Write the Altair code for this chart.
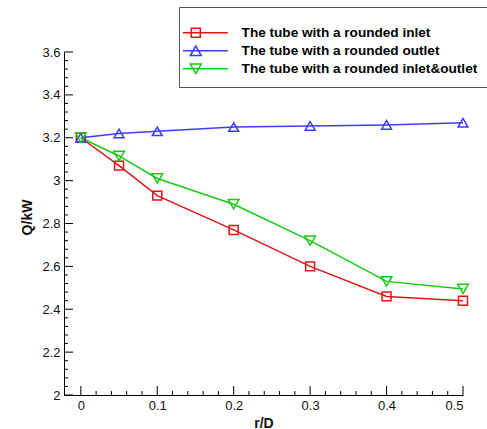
import altair as alt
import pandas as pd

# Heat transfer rate Q (kW) against fillet radius ratio r/D
r_over_d = [0, 0.05, 0.1, 0.2, 0.3, 0.4, 0.5]
q_inlet = [3.20, 3.07, 2.93, 2.77, 2.60, 2.46, 2.44]
q_outlet = [3.20, 3.22, 3.23, 3.25, 3.255, 3.26, 3.27]
q_inlet_outlet = [3.20, 3.115, 3.01, 2.89, 2.72, 2.53, 2.495]

series_names = [
    "The tube with a rounded inlet",
    "The tube with a rounded outlet",
    "The tube with a rounded inlet&outlet",
]
series_colors = ["#e01515", "#3c3cff", "#14cc14"]
marker_shapes = ["square", "triangle-up", "triangle-down"]
marker_sizes = [80, 115, 115]
# legend symbols: a short line with the marker on it
legend_shapes = [
    "M-2.6,0H6.4M-0.9,-0.9H0.9V0.9H-0.9Z",
    "M-2.6,0H6.4M0,-0.95L1.1,0.95L-1.1,0.95Z",
    "M-2.6,0H6.4M0,0.95L1.1,-0.95L-1.1,-0.95Z",
]

x_major = [0, 0.1, 0.2, 0.3, 0.4, 0.5]
y_major = [2.0, 2.2, 2.4, 2.6, 2.8, 3.0, 3.2, 3.4, 3.6]
x_minor = [round(i * 0.02, 2) for i in range(1, 25) if i % 5 != 0]
y_minor = [round(2 + i * 0.04, 2) for i in range(1, 40) if i % 5 != 0]

W, H = 399, 343
FONT = "Liberation Sans"

rows = []
for name, vals in zip(series_names, [q_inlet, q_outlet, q_inlet_outlet]):
    for x, q in zip(r_over_d, vals):
        rows.append({"rD": x, "Q": q, "series": name})
df = pd.DataFrame(rows)

xscale = alt.Scale(domain=[-0.022, 0.5], nice=False, zero=False)
yscale = alt.Scale(domain=[2, 3.6], nice=False, zero=False)
cscale = alt.Scale(domain=series_names, range=series_colors)

x_axis = alt.Axis(
    values=x_major, format="~g", ticks=False, grid=False, domainColor="black",
    labelFont=FONT, labelFontSize=13, labelColor="#111", labelPadding=4,
    title="r/D", titleFont=FONT, titleFontSize=14, titleFontWeight="bold",
    titleColor="#111", titlePadding=4,
)
y_axis = alt.Axis(
    values=y_major, format="~g", ticks=False, grid=False, domainColor="black",
    labelFont=FONT, labelFontSize=13, labelColor="#111", labelPadding=4,
    title="Q/kW", titleFont=FONT, titleFontSize=14, titleFontWeight="bold",
    titleColor="#111", titlePadding=7, titleY=165,
)

base = alt.Chart(df)

lines = base.mark_line(strokeWidth=1.5).encode(
    x=alt.X("rD:Q", scale=xscale, axis=x_axis),
    y=alt.Y("Q:Q", scale=yscale, axis=y_axis),
    color=alt.Color("series:N", scale=cscale, legend=None),
    detail="series:N",
)

points = base.mark_point(filled=False, strokeWidth=1.5, opacity=1).encode(
    x=alt.X("rD:Q", scale=xscale),
    y=alt.Y("Q:Q", scale=yscale),
    color=alt.Color("series:N", scale=cscale, legend=None),
    shape=alt.Shape("series:N", scale=alt.Scale(domain=series_names, range=marker_shapes), legend=None),
    size=alt.Size("series:N", scale=alt.Scale(domain=series_names, range=marker_sizes), legend=None),
)

legend_kw = dict(
    orient="none", legendX=115, legendY=-45,
    title=" ", titleFontSize=8, titlePadding=1,
    labelFont=FONT, labelFontSize=13.6, labelFontWeight="bold", labelColor="black",
    labelLimit=400, labelOffset=39, symbolSize=100, symbolStrokeWidth=1.5,
    symbolOpacity=1, rowPadding=2, padding=10, strokeColor="#555",
    fillColor="white",
)

legend_layer = base.mark_point(filled=False, opacity=0).encode(
    x=alt.X("rD:Q", scale=xscale),
    y=alt.Y("Q:Q", scale=yscale),
    color=alt.Color("series:N", scale=cscale, legend=alt.Legend(**legend_kw)),
    shape=alt.Shape("series:N", scale=alt.Scale(domain=series_names, range=legend_shapes),
                    legend=alt.Legend(**legend_kw)),
)

# inward-pointing major and minor ticks
def x_ticks(vals, length):
    return alt.Chart(pd.DataFrame({"t": vals})).mark_rule(color="black", strokeWidth=1).encode(
        x=alt.X("t:Q", scale=xscale), y=alt.value(H), y2=alt.value(H - length)
    )

def y_ticks(vals, length):
    return alt.Chart(pd.DataFrame({"t": vals})).mark_rule(color="black", strokeWidth=1).encode(
        y=alt.Y("t:Q", scale=yscale), x=alt.value(0), x2=alt.value(length)
    )

chart = (
    alt.layer(
        x_ticks(x_major, 9), x_ticks(x_minor, 4), y_ticks(y_major, 9), y_ticks(y_minor, 4),
        lines, points, legend_layer,
    )
    .resolve_scale(shape="independent", size="independent")
    .resolve_legend(color="independent", shape="independent")
    .properties(
        width=W, height=H,
        autosize=alt.AutoSizeParams(type="none"),
        padding={"left": 64, "top": 52, "right": 24, "bottom": 34},
        background="white",
    )
    .configure_view(stroke=None)
)

chart.save("out.html", embed_options={"renderer": "svg", "actions": False})
